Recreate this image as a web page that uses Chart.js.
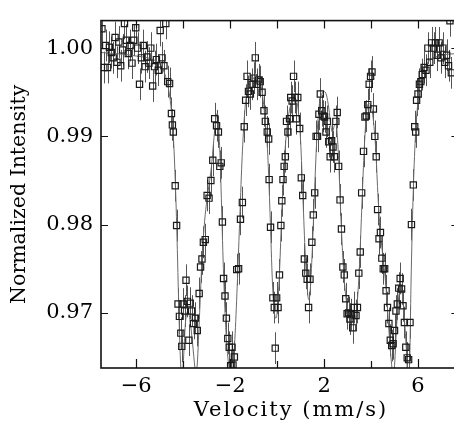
<!DOCTYPE html>
<html>
<head>
<meta charset="utf-8">
<script src="https://cdn.jsdelivr.net/npm/chart.js@4.4.1/dist/chart.umd.min.js"></script>
<style>
    html, body { margin: 0; padding: 0; background: #fff; overflow: hidden; }
    canvas { display: block; }
</style>
</head>
<body>
<canvas id="spectrum" width="464" height="427"></canvas>
<script>
// Spectre Mössbauer - points mesurés (vitesse en mm/s, intensité normalisée)
const velocity = [
    -7.46, -7.38, -7.30, -7.22, -7.14, -7.06, -6.98, -6.90, -6.82, -6.74,
    -6.66, -6.58, -6.50, -6.42, -6.34, -6.26, -6.18, -6.10, -6.02, -5.94,
    -5.86, -5.78, -5.70, -5.62, -5.54, -5.46, -5.38, -5.30, -5.22, -5.14,
    -5.06, -4.98, -4.90, -4.82, -4.74, -4.66, -4.58, -4.50, -4.46, -4.42,
    -4.34, -4.28, -4.22, -4.16, -4.10, -4.06, -4.00, -3.94, -3.88, -3.82,
    -3.76, -3.70, -3.64, -3.56, -3.48, -3.40, -3.32, -3.26, -3.20, -3.14,
    -3.06, -2.98, -2.90, -2.82, -2.74, -2.66, -2.58, -2.50, -2.44, -2.38,
    -2.33, -2.28, -2.22, -2.16, -2.10, -2.04, -1.98, -1.92, -1.88, -1.82,
    -1.72, -1.64, -1.56, -1.48, -1.40, -1.34, -1.28, -1.22, -1.14, -1.06,
    -0.98, -0.93, -0.86, -0.79, -0.72, -0.64, -0.56, -0.50, -0.42, -0.36,
    -0.34, -0.28, -0.18, -0.12, -0.08, -0.02, 0.04, 0.10, 0.16, 0.20,
    0.25, 0.30, 0.35, 0.40, 0.46, 0.53, 0.58, 0.64, 0.70, 0.76,
    0.82, 0.88, 0.96, 1.03, 1.09, 1.16, 1.22, 1.28, 1.34, 1.40,
    1.48, 1.54, 1.60, 1.66, 1.72, 1.78, 1.84, 1.90, 1.96, 2.02,
    2.08, 2.14, 2.20, 2.26, 2.32, 2.38, 2.44, 2.50, 2.56, 2.62,
    2.68, 2.74, 2.80, 2.86, 2.92, 2.98, 3.04, 3.10, 3.16, 3.22,
    3.28, 3.36, 3.42, 3.48, 3.54, 3.60, 3.68, 3.74, 3.80, 3.86,
    3.92, 3.98, 4.04, 4.10, 4.16, 4.22, 4.28, 4.34, 4.40, 4.46,
    4.52, 4.58, 4.64, 4.70, 4.76, 4.82, 4.88, 4.94, 5.00, 5.06,
    5.12, 5.18, 5.24, 5.30, 5.36, 5.42, 5.48, 5.54, 5.60, 5.66,
    5.72, 5.80, 5.86, 5.90, 5.94, 6.00, 6.06, 6.12, 6.18, 6.26,
    6.34, 6.42, 6.50, 6.58, 6.66, 6.74, 6.82, 6.90, 6.98, 7.06,
    7.14, 7.22, 7.30, 7.36, 7.42
];
const intensity = [
    1.0022, 0.9978, 1.0003, 0.9978, 1.0001, 0.9995, 0.9989, 1.0012, 0.9984, 1.0007,
    0.9980, 0.9998, 1.0028, 1.0009, 0.9994, 1.0003, 0.9983, 1.0009, 1.0023, 1.0000,
    0.9959, 0.9989, 1.0003, 0.9979, 0.9990, 0.9983, 1.0000, 0.9957, 0.9979, 0.9987,
    0.9975, 1.0020, 0.9989, 0.9980, 1.0028, 0.9962, 0.9960, 0.9926, 0.9913, 0.9905,
    0.9844, 0.9799, 0.9710, 0.9696, 0.9677, 0.9662, 0.9710, 0.9702, 0.9737, 0.9713,
    0.9669, 0.9711, 0.9702, 0.9688, 0.9694, 0.9680, 0.9722, 0.9752, 0.9761, 0.9780,
    0.9783, 0.9833, 0.9830, 0.9850, 0.9873, 0.9920, 0.9912, 0.9905, 0.9866, 0.9870,
    0.9803, 0.9739, 0.9719, 0.9694, 0.9671, 0.9661, 0.9640, 0.9661, 0.9641, 0.9650,
    0.9749, 0.9750, 0.9806, 0.9825, 0.9911, 0.9941, 0.9968, 0.9951, 0.9948, 0.9959,
    0.9966, 0.9989, 0.9959, 0.9964, 0.9962, 0.9950, 0.9929, 0.9917, 0.9905, 0.9897,
    0.9851, 0.9797, 0.9717, 0.9706, 0.9660, 0.9717, 0.9706, 0.9743, 0.9799, 0.9827,
    0.9851, 0.9866, 0.9877, 0.9917, 0.9905, 0.9920, 0.9944, 0.9940, 0.9968, 0.9944,
    0.9920, 0.9944, 0.9909, 0.9853, 0.9833, 0.9761, 0.9745, 0.9738, 0.9706, 0.9738,
    0.9780, 0.9811, 0.9836, 0.9900, 0.9900, 0.9925, 0.9948, 0.9929, 0.9923, 0.9922,
    0.9905, 0.9917, 0.9894, 0.9877, 0.9895, 0.9888, 0.9877, 0.9917, 0.9927, 0.9866,
    0.9828, 0.9795, 0.9752, 0.9743, 0.9716, 0.9699, 0.9700, 0.9693, 0.9698, 0.9683,
    0.9706, 0.9697, 0.9706, 0.9745, 0.9769, 0.9836, 0.9883, 0.9922, 0.9923, 0.9936,
    0.9959, 0.9968, 0.9973, 0.9931, 0.9900, 0.9877, 0.9817, 0.9784, 0.9791, 0.9762,
    0.9750, 0.9750, 0.9725, 0.9706, 0.9688, 0.9669, 0.9663, 0.9665, 0.9680, 0.9702,
    0.9710, 0.9728, 0.9739, 0.9727, 0.9708, 0.9689, 0.9661, 0.9649, 0.9647, 0.9689,
    0.9800, 0.9845, 0.9911, 0.9905, 0.9941, 0.9948, 0.9959, 0.9962, 0.9970, 0.9978,
    0.9975, 1.0000, 0.9984, 1.0006, 1.0000, 1.0006, 0.9992, 1.0006, 0.9989, 1.0000,
    0.9984, 0.9992, 0.9980, 1.0031, 0.9972
];
// Demi-longueur des barres d'erreur
const errorBar = 0.0018;

// Courbe ajustée
const fitVelocity = [
    -7.5, -7.0, -6.5, -6.0, -5.5, -5.2, -5.0, -4.9, -4.8, -4.7,
    -4.6, -4.5, -4.4, -4.3, -4.2, -4.15, -4.1, -4.05, -4.0, -3.95,
    -3.9, -3.8, -3.7, -3.6, -3.5, -3.45, -3.4, -3.3, -3.2, -3.1,
    -3.0, -2.9, -2.8, -2.7, -2.6, -2.55, -2.5, -2.45, -2.4, -2.3,
    -2.2, -2.1, -2.0, -1.95, -1.9, -1.8, -1.7, -1.6, -1.5, -1.4,
    -1.3, -1.2, -1.1, -1.0, -0.9, -0.8, -0.7, -0.6, -0.5, -0.4,
    -0.3, -0.2, -0.1, -0.05, 0.0, 0.1, 0.2, 0.3, 0.4, 0.5,
    0.6, 0.7, 0.8, 0.9, 1.0, 1.1, 1.2, 1.3, 1.35, 1.4,
    1.5, 1.6, 1.7, 1.8, 1.9, 2.0, 2.1, 2.2, 2.3, 2.35,
    2.45, 2.5, 2.6, 2.7, 2.8, 2.9, 3.0, 3.1, 3.2, 3.3,
    3.4, 3.5, 3.6, 3.7, 3.8, 3.9, 4.0, 4.1, 4.2, 4.3,
    4.4, 4.5, 4.6, 4.7, 4.8, 4.9, 4.95, 5.0, 5.1, 5.2,
    5.3, 5.4, 5.5, 5.55, 5.6, 5.65, 5.7, 5.8, 5.9, 6.0,
    6.1, 6.2, 6.4, 6.6, 7.0, 7.7
];
const fitIntensity = [
    0.9995, 0.9994, 0.9993, 0.9991, 0.9989, 0.9986, 0.9982, 0.9978, 0.9972, 0.9963,
    0.9950, 0.9928, 0.9890, 0.9820, 0.9720, 0.9670, 0.9638, 0.9625, 0.9640, 0.9668,
    0.9690, 0.9702, 0.9690, 0.9665, 0.9638, 0.9630, 0.9642, 0.9700, 0.9760, 0.9800,
    0.9826, 0.9845, 0.9865, 0.9895, 0.9922, 0.9926, 0.9916, 0.9890, 0.9852, 0.9760,
    0.9690, 0.9650, 0.9632, 0.9628, 0.9634, 0.9670, 0.9730, 0.9800, 0.9870, 0.9920,
    0.9948, 0.9958, 0.9962, 0.9966, 0.9970, 0.9968, 0.9960, 0.9942, 0.9915, 0.9880,
    0.9812, 0.9735, 0.9697, 0.9694, 0.9700, 0.9745, 0.9815, 0.9868, 0.9905, 0.9926,
    0.9938, 0.9944, 0.9942, 0.9930, 0.9895, 0.9830, 0.9765, 0.9722, 0.9715, 0.9722,
    0.9772, 0.9842, 0.9902, 0.9936, 0.9948, 0.9951, 0.9947, 0.9932, 0.9910, 0.9905,
    0.9913, 0.9914, 0.9885, 0.9818, 0.9762, 0.9725, 0.9705, 0.9695, 0.9690, 0.9692,
    0.9708, 0.9750, 0.9815, 0.9880, 0.9925, 0.9937, 0.9935, 0.9918, 0.9885, 0.9830,
    0.9790, 0.9765, 0.9740, 0.9705, 0.9665, 0.9635, 0.9625, 0.9640, 0.9690, 0.9722,
    0.9725, 0.9700, 0.9660, 0.9632, 0.9625, 0.9650, 0.9730, 0.9840, 0.9905, 0.9940,
    0.9960, 0.9972, 0.9983, 0.9988, 0.9992, 0.9994
];

// Graduations des axes
const xTicks = [-6, -4, -2, 0, 2, 4, 6];
const xLabels = [-6, -2, 2, 6];
const yTicks = [0.97, 0.98, 0.99, 1.00];

const SERIF = '"DejaVu Serif", "Liberation Serif", serif';

/**
 * Dessine les barres d'erreur verticales sous les points
 */
const errorBarsPlugin = {
    id: 'errorBars',
    beforeDatasetsDraw(chart) {
        const { ctx, chartArea: a, scales: { x, y } } = chart;
        ctx.save();
        ctx.beginPath();
        ctx.rect(a.left, a.top, a.right - a.left, a.bottom - a.top);
        ctx.clip();
        ctx.strokeStyle = '#555';
        ctx.lineWidth = 1;
        ctx.beginPath();
        velocity.forEach((v, i) => {
            const px = Math.round(x.getPixelForValue(v)) + 0.5;
            ctx.moveTo(px, y.getPixelForValue(intensity[i] + errorBar));
            ctx.lineTo(px, y.getPixelForValue(intensity[i] - errorBar));
        });
        ctx.stroke();
        ctx.restore();
    }
};

/**
 * Cadre, graduations intérieures et titre de l'axe des vitesses
 */
const framePlugin = {
    id: 'frame',
    afterDraw(chart) {
        const { ctx, chartArea: a, scales: { x, y } } = chart;
        ctx.save();
        ctx.strokeStyle = '#111';
        ctx.lineWidth = 1.6;
        ctx.strokeRect(a.left, a.top, a.right - a.left, a.bottom - a.top);

        ctx.lineWidth = 1.2;
        ctx.beginPath();
        xTicks.forEach(v => {
            const px = Math.round(x.getPixelForValue(v)) + 0.5;
            const len = xLabels.includes(v) ? 9 : 7;
            ctx.moveTo(px, a.bottom);
            ctx.lineTo(px, a.bottom - len);
            ctx.moveTo(px, a.top);
            ctx.lineTo(px, a.top + 8);
        });
        yTicks.forEach(v => {
            const py = Math.round(y.getPixelForValue(v)) + 0.5;
            ctx.moveTo(a.left, py);
            ctx.lineTo(a.left + 7, py);
            ctx.moveTo(a.right, py);
            ctx.lineTo(a.right - 7, py);
        });
        ctx.stroke();

        ctx.fillStyle = '#000';
        ctx.font = '21px ' + SERIF;
        ctx.textAlign = 'center';
        ctx.textBaseline = 'middle';
        ctx.letterSpacing = '2px';
        ctx.fillText('Velocity (mm/s)', 291, 411);
        ctx.restore();
    }
};

new Chart(document.getElementById('spectrum'), {
    type: 'scatter',
    data: {
        datasets: [
            {
                label: 'Mesures',
                data: velocity.map((v, i) => ({ x: v, y: intensity[i] })),
                pointStyle: 'rect',
                pointRadius: 4.4,
                pointBorderWidth: 1.2,
                pointBorderColor: '#1a1a1a',
                pointBackgroundColor: 'rgba(255,255,255,0)',
                order: 1
            },
            {
                type: 'line',
                label: 'Ajustement',
                data: fitVelocity.map((v, i) => ({ x: v, y: fitIntensity[i] })),
                borderColor: '#6a6a6a',
                borderWidth: 1,
                pointRadius: 0,
                cubicInterpolationMode: 'monotone',
                fill: false,
                order: 2
            }
        ]
    },
    options: {
        responsive: false,
        animation: false,
        devicePixelRatio: 1,
        layout: { padding: { top: 15, right: 4, left: 0, bottom: 0 } },
        plugins: {
            legend: { display: false },
            tooltip: { enabled: false }
        },
        scales: {
            x: {
                type: 'linear',
                min: -7.5,
                max: 7.72,
                grid: { display: false, drawTicks: false },
                border: { display: false },
                afterBuildTicks: scale => { scale.ticks = xTicks.map(v => ({ value: v })); },
                afterFit: scale => { scale.height = 59; },
                ticks: {
                    autoSkip: false,
                    maxRotation: 0,
                    padding: 6,
                    color: '#000',
                    font: { family: SERIF, size: 21 },
                    callback: v => xLabels.includes(v) ? (v < 0 ? '\u2212' + Math.abs(v) : String(v)) : ''
                }
            },
            y: {
                type: 'linear',
                min: 0.96375,
                max: 1.00312,
                grid: { display: false, drawTicks: false },
                border: { display: false },
                afterBuildTicks: scale => { scale.ticks = yTicks.map(v => ({ value: v })); },
                afterFit: scale => { scale.width = 101; },
                ticks: {
                    padding: 8,
                    color: '#000',
                    font: { family: SERIF, size: 21 },
                    callback: v => v.toFixed(2)
                },
                title: {
                    display: true,
                    text: 'Normalized Intensity',
                    color: '#000',
                    font: { family: SERIF, size: 20.5 },
                    padding: { top: 7, bottom: 0 }
                }
            }
        }
    },
    plugins: [errorBarsPlugin, framePlugin]
});
</script>
</body>
</html>
